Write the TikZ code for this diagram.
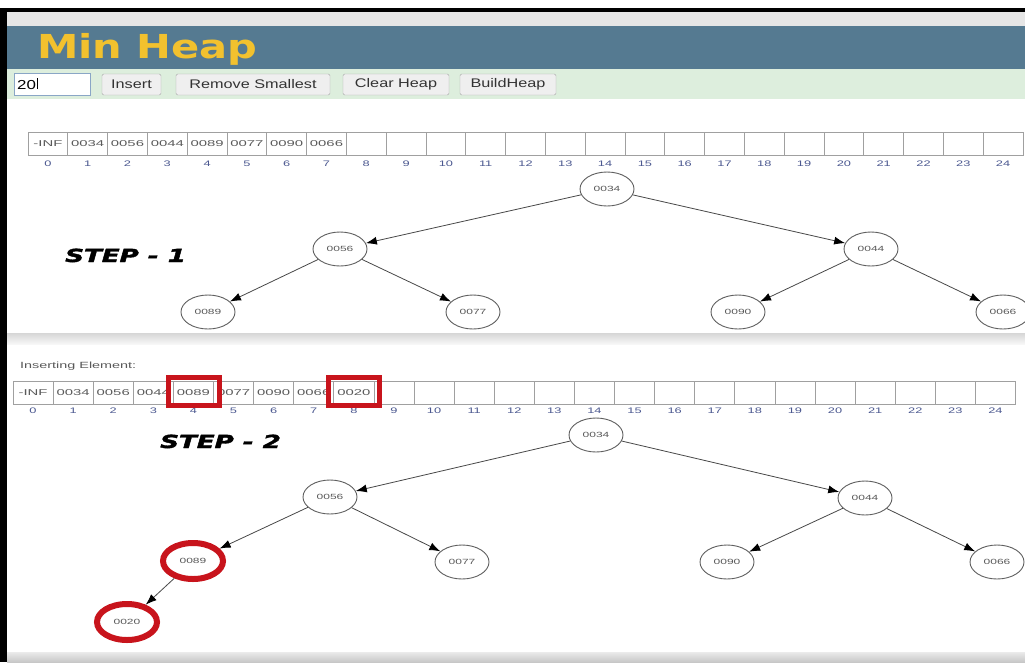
\documentclass[tikz,border=0pt]{standalone}
\usepackage{fontspec}
\setmainfont{Liberation Sans}
\newfontfamily\titlefont{DejaVu Sans Bold}
\newfontfamily\stepfont{DejaVu Sans Bold Oblique}[FakeBold=2]
\usepackage{graphicx}
\usetikzlibrary{shapes.geometric,arrows.meta}

\definecolor{hdrblue}{HTML}{557A91}
\definecolor{hdrgrey}{HTML}{E6E6E6}
\definecolor{hdrgreen}{HTML}{DDEEDD}
\definecolor{titlegold}{HTML}{F2C12E}
\definecolor{cellline}{HTML}{A0A0A0}
\definecolor{celltext}{HTML}{5A5A5A}
\definecolor{idxblue}{HTML}{4B5890}
\definecolor{nodeline}{HTML}{606060}
\definecolor{edgegrey}{HTML}{484848}
\definecolor{markred}{HTML}{C8141C}
\definecolor{btnfill}{HTML}{EFEFEF}
\definecolor{btnline}{HTML}{A8A8A8}
\definecolor{inline}{HTML}{8AA6C6}

% horizontal stretch of a piece of text
\newcommand\wide[2]{\scalebox{#1}[1]{#2}}

\begin{document}
\begin{tikzpicture}[x=1pt,y=-1pt,
  btn/.style={draw=btnline, fill=btnfill, rounded corners=1.5pt, inner sep=0pt,
    minimum height=21pt, text=black!80, font=\fontsize{12.5}{12.5}\selectfont},
  cell/.style={draw=cellline, line width=0.8pt, rectangle, inner sep=0pt,
    minimum height=23pt, text=celltext, font=\fontsize{8.5}{8.5}\selectfont},
  idx/.style={text=idxblue, inner sep=0pt, font=\fontsize{8}{8}\selectfont},
  hnode/.style={ellipse, draw=nodeline, line width=0.9pt, fill=white, inner sep=0pt,
    minimum width=54pt, minimum height=34pt, text=celltext, font=\fontsize{7.5}{7.5}\selectfont},
  hot/.style={hnode, draw=markred, line width=6pt, minimum width=60pt, minimum height=36pt},
  redbox/.style={rectangle, draw=markred, line width=5.5pt, inner sep=0pt,
    minimum width=51pt, minimum height=28pt},
  edge/.style={draw=edgegrey, line width=0.8pt,
    -{Latex[length=11pt,width=8pt,fill=black,color=black]}},
  steplabel/.style={anchor=base west, inner sep=0pt, text=black,
    font=\stepfont\fontsize{18}{18}\selectfont},
]
\useasboundingbox (0,0) rectangle (1025,662);
\clip (0,0) rectangle (1025,662);
\fill[white] (0,0) rectangle (1025,662);

% window frame and header bands
\fill[hdrgrey] (7,12) rectangle (1025,26);
\fill[hdrblue] (7,26) rectangle (1025,69);
\fill[hdrgreen] (7,69) rectangle (1025,99);
\fill[black] (0,8) rectangle (1025,12);
\fill[black] (0,8) rectangle (7,662);

\node[anchor=base west, inner sep=0pt, text=titlegold,
      font=\titlefont\fontsize{33}{33}\selectfont] (title) at (37,58) {\wide{1.26}{Min Heap}};

% toolbar
\node[draw=inline, fill=white, minimum width=76pt, minimum height=22pt, inner sep=0pt] (inp) at (52,84) {};
\node[anchor=base west, inner sep=0pt, font=\fontsize{13}{13}\selectfont] (inptxt) at (17,89) {\wide{1.3}{20}};
\draw[line width=0.8pt] ([xshift=1pt]inptxt.base east) -- ([xshift=1pt,yshift=11pt]inptxt.base east);
\node[btn, minimum width=59pt] (bins) at (131.5,84.5) {\wide{1.3}{Insert}};
\node[btn, minimum width=154pt] (brem) at (253,84.5) {\wide{1.3}{Remove Smallest}};
\node[btn, minimum width=106pt] (bclr) at (396,84.5) {\wide{1.3}{Clear Heap}};
\node[btn, minimum width=96pt] (bbld) at (508,84.5) {\wide{1.3}{BuildHeap}};

% ---------- step 1: array ----------
\foreach \v [count=\n from 0] in {-INF,0034,0056,0044,0089,0077,0090,0066}
  \node[cell, minimum width=39.8pt] (a\n) at ({28+39.8*(\n+0.5)},143.5) {\wide{1.75}{\v}};
\foreach \n in {8,...,24}
  \node[cell, minimum width=39.8pt] (a\n) at ({28+39.8*(\n+0.5)},143.5) {};
\foreach \n in {0,...,24}
  \node[idx] (al\n) at ({28+39.8*(\n+0.5)},164) {\wide{1.6}{\n}};

% ---------- step 1: tree ----------
\node[hnode] (r1) at (607,189) {\wide{1.6}{0034}};
\node[hnode] (l1) at (340,249) {\wide{1.6}{0056}};
\node[hnode] (q1) at (871,249) {\wide{1.6}{0044}};
\node[hnode] (ll1) at (208,312) {\wide{1.6}{0089}};
\node[hnode] (lr1) at (473,312) {\wide{1.6}{0077}};
\node[hnode] (ql1) at (738,312) {\wide{1.6}{0090}};
\node[hnode] (qr1) at (1003,312) {\wide{1.6}{0066}};
\draw[edge] (r1) -- (l1);
\draw[edge] (r1) -- (q1);
\draw[edge] (l1) -- (ll1);
\draw[edge] (l1) -- (lr1);
\draw[edge] (q1) -- (ql1);
\draw[edge] (q1) -- (qr1);

\node[steplabel] (s1) at (65,262) {\wide{1.45}{STEP - 1}};

% section divider
\shade[top color=black!16, bottom color=black!3] (7,333) rectangle (1025,344);

% ---------- step 2: array ----------
\node[anchor=base west, inner sep=0pt, text=black!65, font=\fontsize{9}{9}\selectfont] (ins) at (20,368) {\wide{1.6}{Inserting Element:}};

\foreach \v [count=\n from 0] in {-INF,0034,0056,0044,0089,0077,0090,0066,0020}
  \node[cell, minimum width=40.1pt] (b\n) at ({13+40.1*(\n+0.5)},392.5) {\wide{1.75}{\v}};
\foreach \n in {9,...,24}
  \node[cell, minimum width=40.1pt] (b\n) at ({13+40.1*(\n+0.5)},392.5) {};
\foreach \n in {0,...,24}
  \node[idx] (bl\n) at ({13+40.1*(\n+0.5)},411) {\wide{1.6}{\n}};

\node[redbox] (box4) at (194,391.5) {};
\node[redbox] (box8) at (354,391.5) {};

% ---------- step 2: tree ----------
\node[hnode] (r2) at (596,435) {\wide{1.6}{0034}};
\node[hnode] (l2) at (330,497) {\wide{1.6}{0056}};
\node[hnode] (q2) at (865,498) {\wide{1.6}{0044}};
\node[hot] (ll2) at (193,561) {\wide{1.6}{0089}};
\node[hnode] (lr2) at (462,562) {\wide{1.6}{0077}};
\node[hnode] (ql2) at (727,562) {\wide{1.6}{0090}};
\node[hnode] (qr2) at (997,562) {\wide{1.6}{0066}};
\node[hot] (new2) at (127,622) {\wide{1.6}{0020}};
\draw[edge] (r2) -- (l2);
\draw[edge] (r2) -- (q2);
\draw[edge] (l2) -- (ll2);
\draw[edge] (l2) -- (lr2);
\draw[edge] (q2) -- (ql2);
\draw[edge] (q2) -- (qr2);
\draw[edge] (ll2) -- (new2);

\node[steplabel] (s2) at (160,448) {\wide{1.45}{STEP - 2}};

% bottom edge of the page area
\shade[top color=black!8, bottom color=black!22] (7,652) rectangle (1025,662);
\end{tikzpicture}
\end{document}
